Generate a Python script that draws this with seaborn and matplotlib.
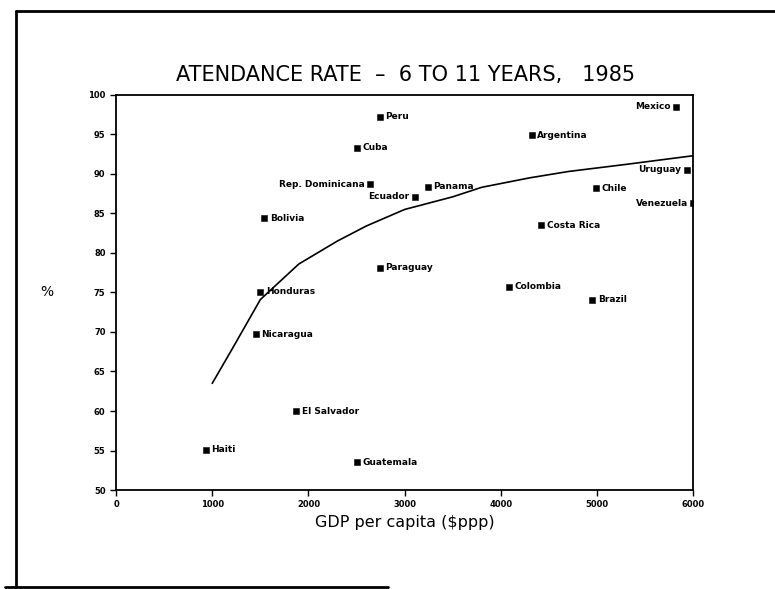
import matplotlib
matplotlib.use("Agg")
import matplotlib.pyplot as plt
import seaborn as sns
import pandas as pd

countries = ["Peru", "Cuba", "Rep. Dominicana", "Ecuador", "Panama", "Bolivia",
             "Argentina", "Mexico", "Uruguay", "Chile", "Venezuela", "Costa Rica",
             "Paraguay", "Colombia", "Brazil", "Honduras", "Nicaragua",
             "El Salvador", "Haiti", "Guatemala"]
gdp = [2740, 2500, 2640, 3110, 3240, 1540, 4320, 5820, 5930, 4990, 6000, 4420,
       2740, 4080, 4950, 1500, 1450, 1870, 930, 2500]
rate = [97.2, 93.3, 88.7, 87.1, 88.4, 84.4, 94.9, 98.5, 90.5, 88.2, 86.3, 83.5,
        78.1, 75.7, 74.1, 75.1, 69.7, 60.0, 55.1, 53.5]
# countries whose label sits to the left of the marker
left_labels = ["Rep. Dominicana", "Ecuador", "Mexico", "Uruguay", "Venezuela"]

curve_gdp = [1000, 1200, 1500, 1900, 2300, 2600, 3000, 3500, 3800, 4300, 4700, 5300, 6000]
curve_rate = [63.5, 67.7, 74.1, 78.6, 81.5, 83.4, 85.5, 87.1, 88.3, 89.5, 90.3, 91.2, 92.3]

df = pd.DataFrame({"country": countries, "gdp": gdp, "rate": rate})
curve = pd.DataFrame({"gdp": curve_gdp, "rate": curve_rate})

sns.set_style("white")
plt.rcParams["font.family"] = ["DejaVu Sans"]
plt.rcParams["text.color"] = "black"
plt.rcParams["axes.labelcolor"] = "black"
plt.rcParams["xtick.color"] = "black"
plt.rcParams["ytick.color"] = "black"

fig = plt.figure(figsize=(7.75, 5.89), dpi=100)
ax = fig.add_axes([0.1497, 0.168, 0.745, 0.671])

sns.lineplot(data=curve, x="gdp", y="rate", color="black", linewidth=1.2, ax=ax)
sns.scatterplot(data=df, x="gdp", y="rate", marker="s", s=22, color="black",
                edgecolor="black", ax=ax)

for c, x, y in zip(countries, gdp, rate):
    if c in left_labels:
        ax.annotate(c, (x, y), xytext=(-4, 0), textcoords="offset points",
                    ha="right", va="center", fontsize=6.5, fontweight="bold")
    else:
        ax.annotate(c, (x, y), xytext=(4, 0), textcoords="offset points",
                    ha="left", va="center", fontsize=6.5, fontweight="bold")

ax.set_xlim(0, 6000)
ax.set_ylim(50, 100)
ax.set_xticks(range(0, 6001, 1000))
ax.set_yticks(range(50, 101, 5))
ax.tick_params(labelsize=6, direction="out", length=4, width=1, left=True, bottom=True)
for lbl in ax.get_xticklabels() + ax.get_yticklabels():
    lbl.set_fontweight("bold")
for sp in ax.spines.values():
    sp.set_color("black")
    sp.set_linewidth(1.3)

ax.set_xlabel("GDP per capita ($ppp)", fontsize=11.5)
ax.set_ylabel("%", fontsize=10, rotation=0, labelpad=30, va="center")
fig.text(0.523, 0.872, "ATENDANCE RATE  \u2013  6 TO 11 YEARS,   1985",
         ha="center", va="center", fontsize=15)

# slide frame
fig.add_artist(plt.Line2D([0.02, 1.0], [0.982, 0.982], color="black", linewidth=2,
                          transform=fig.transFigure))
fig.add_artist(plt.Line2D([0.02, 0.02], [0.003, 0.982], color="black", linewidth=2,
                          transform=fig.transFigure))
fig.add_artist(plt.Line2D([0.007, 0.50], [0.003, 0.003], color="black", linewidth=2,
                          transform=fig.transFigure))

fig.savefig("out.png", dpi=100)
